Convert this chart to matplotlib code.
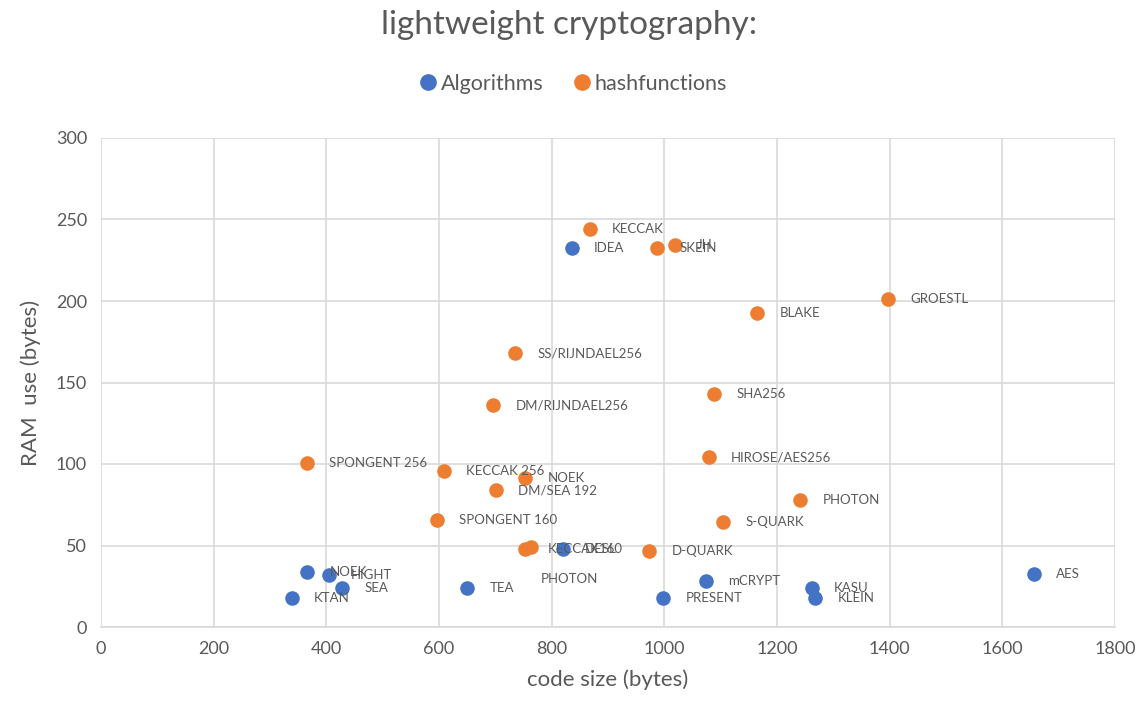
import matplotlib
matplotlib.use("Agg")
import matplotlib.pyplot as plt
from matplotlib.lines import Line2D

plt.rcParams['font.family'] = ['Lato', 'DejaVu Sans']

# Algorithms
alg_names = ["KTAN", "NOEK", "HIGHT", "SEA", "TEA", "IDEA", "DESL", "mCRYPT", "PRESENT", "KASU", "KLEIN", "AES"]
alg_x = [339, 366, 404, 428, 650, 836, 820, 1074, 998, 1262, 1268, 1656]
alg_y = [18, 34, 32, 24, 24, 232.5, 48, 28, 18, 24, 18, 32.5]

# hashfunctions
hash_names = ["KECCAK", "SKEIN", "JH", "GROESTL", "BLAKE", "SS/RIJNDAEL256", "SHA256",
              "DM/RIJNDAEL256", "SPONGENT 256", "HIROSE/AES256", "KECCAK 256", "NOEK",
              "DM/SEA 192", "PHOTON", "SPONGENT 160", "S-QUARK", "KECCAK160", "PHOTON",
              "D-QUARK"]
hash_x = [868, 987, 1019, 1397, 1165, 735, 1088, 696, 366, 1079, 609, 753, 701, 1241,
          596, 1104, 753, 763, 973]
hash_y = [244, 232.5, 234.5, 201, 192.6, 168, 143, 136, 100.6, 104, 95.7, 91.4, 84, 78,
          65.6, 64.4, 48, 49, 46.6]

x_ticks = [0, 200, 400, 600, 800, 1000, 1200, 1400, 1600, 1800]
y_ticks = [0, 50, 100, 150, 200, 250, 300]

BLUE = "#4472C4"
ORANGE = "#ED7D31"
TXT = "#595959"

fig = plt.figure(figsize=(11.44, 7.10), dpi=100)
ax = fig.add_axes([101/1144, 1-627/710, (1115-101)/1144, (627-138)/710])

ax.scatter(alg_x, alg_y, s=110, color=BLUE, zorder=3, linewidths=0)
ax.scatter(hash_x, hash_y, s=110, color=ORANGE, zorder=3, linewidths=0)

label_kw = dict(textcoords="offset points", ha="left", va="center",
                fontsize=9.5, color=TXT, zorder=4)
for n, x, y in zip(alg_names, alg_x, alg_y):
    ax.annotate(n, (x, y), xytext=(16, 0), **label_kw)
for i, (n, x, y) in enumerate(zip(hash_names, hash_x, hash_y)):
    off = (16, 0)
    if i == 17:
        off = (7, -23)
    ax.annotate(n, (x, y), xytext=off, **label_kw)

ax.set_xlim(0, 1800)
ax.set_ylim(0, 300)
ax.set_xticks(x_ticks)
ax.set_yticks(y_ticks)
ax.grid(True, color="#D9D9D9", linewidth=1.2, zorder=0)
ax.set_axisbelow(True)
for s in ["top", "right", "left"]:
    ax.spines[s].set_visible(False)
ax.spines["bottom"].set_color("#D9D9D9")
ax.spines["bottom"].set_linewidth(1.2)
ax.tick_params(length=0, labelsize=13, labelcolor=TXT, pad=10)
ax.set_xlabel("code size (bytes)", fontsize=16, color=TXT, labelpad=9)
ax.set_ylabel("RAM  use (bytes)", fontsize=16, color=TXT, labelpad=11)

fig.text(569/1144, 1-25/710, "lightweight cryptography:", ha="center", va="center",
         fontsize=24, color=TXT)

handles = [Line2D([], [], marker="o", linestyle="", color=BLUE, markersize=11),
           Line2D([], [], marker="o", linestyle="", color=ORANGE, markersize=11)]
fig.legend(handles, ["Algorithms", "hashfunctions"], loc="center",
           bbox_to_anchor=(572/1144, 1-84/710), ncol=2, frameon=False,
           fontsize=15.5, labelcolor=TXT, handletextpad=0.1, columnspacing=1.3,
           handlelength=1.0)

fig.savefig("out.png", dpi=100)
